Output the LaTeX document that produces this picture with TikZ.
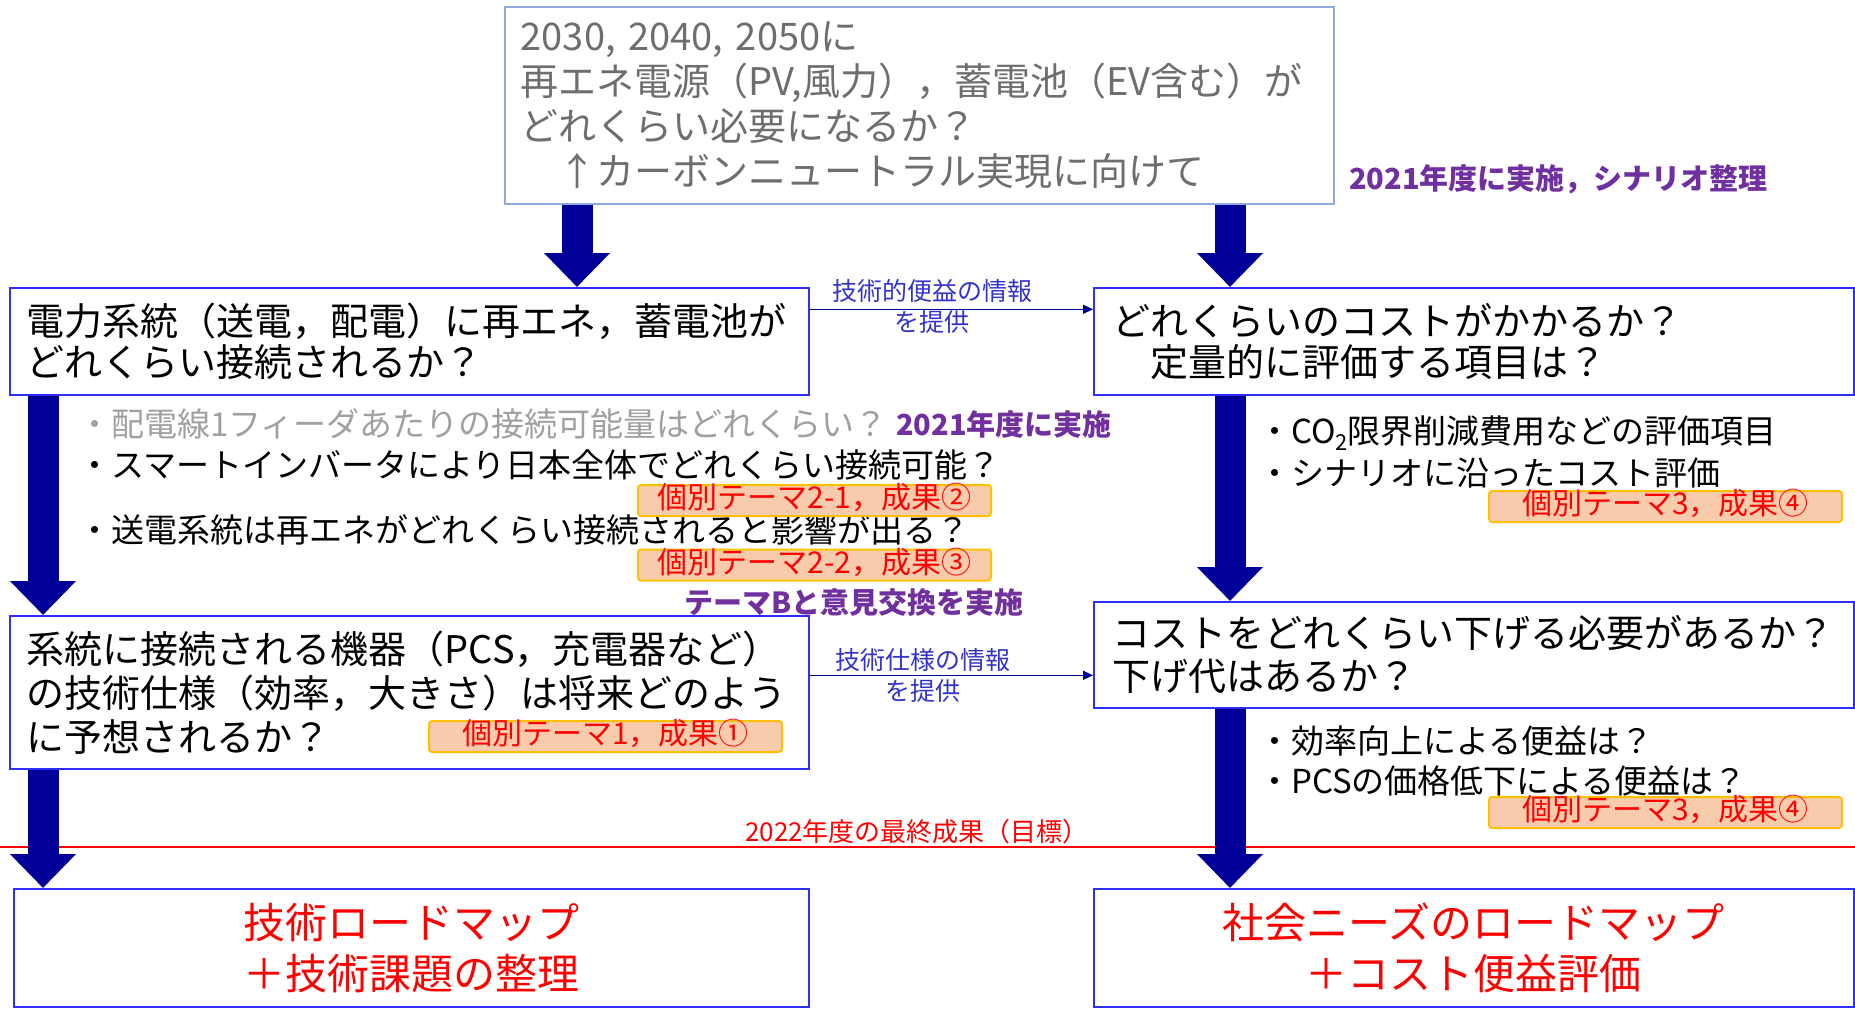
\documentclass[tikz,border=0pt]{standalone}
\usepackage{fontspec}
\setmainfont{Noto Sans CJK JP}
\usetikzlibrary{arrows.meta,calc}
\definecolor{navy}{HTML}{000099}
\definecolor{boxblue}{HTML}{2E2EFF}
\definecolor{topblue}{HTML}{8FAADC}
\definecolor{purp}{HTML}{7030A0}
\definecolor{lblue}{HTML}{3333CC}
\definecolor{orfill}{HTML}{F8CBAD}
\definecolor{orline}{HTML}{FFC000}
\definecolor{greytxt}{HTML}{6E6E6E}
\definecolor{lgreytxt}{HTML}{A0A0A0}
\begin{document}
\begin{tikzpicture}[x=1pt,y=-1pt,
  mainbox/.style={draw=boxblue,line width=1.6pt,anchor=north west,inner ysep=0pt},
  orbox/.style={draw=orline,fill=orfill,line width=2pt,rounded corners=3pt,text=red,
    font=\fontsize{30}{30}\selectfont,minimum width=353pt,minimum height=31pt,
    inner sep=0pt,text height=22pt,text depth=6pt},
  bul/.style={anchor=west,inner sep=0pt,font=\fontsize{33}{33}\selectfont},
  purplab/.style={anchor=west,inner sep=0pt,text=purp,font=\bfseries\fontsize{29}{29}\selectfont},
  infolab/.style={text=lblue,font=\fontsize{25}{31}\selectfont,align=center,inner sep=0pt},
  thinarrow/.style={draw=navy,line width=1.5pt,-{Triangle[length=10pt,width=9pt]}},
  bigarrow/.style={draw=navy,line width=31pt,-{Triangle[length=34pt,width=64pt]}},
  goaltext/.style={text=red,font=\fontsize{42}{51}\selectfont,align=center}
]
\useasboundingbox (0,0) rectangle (1855,1010);

% boxes
\node[mainbox,draw=topblue,minimum width=829pt,minimum height=197pt,inner xsep=16pt,
  text width=797pt,align=left,text=greytxt,font=\fontsize{38}{45}\selectfont]
  (top) at (504,6)
  {2030, 2040, 2050に\\再エネ電源（PV,風力），蓄電池（EV含む）が\\どれくらい必要になるか？\\　↑カーボンニュートラル実現に向けて};

\node[mainbox,minimum width=799pt,minimum height=107pt,inner xsep=17pt,text width=765pt,
  align=left,font=\fontsize{38}{41}\selectfont] (A) at (9,287)
  {電力系統（送電，配電）に再エネ，蓄電池が\\どれくらい接続されるか？};

\node[mainbox,minimum width=760pt,minimum height=107pt,inner xsep=19pt,text width=722pt,
  align=left,font=\fontsize{38}{41}\selectfont] (B) at (1093,287)
  {どれくらいのコストがかかるか？\\　定量的に評価する項目は？};

\node[mainbox,minimum width=799pt,minimum height=153pt,inner xsep=17pt,text width=765pt,
  align=left,font=\fontsize{38}{44}\selectfont] (C) at (9,615)
  {系統に接続される機器（PCS，充電器など）\\の技術仕様（効率，大きさ）は将来どのよう\\に予想されるか？};

\node[mainbox,minimum width=760pt,minimum height=106pt,inner xsep=19pt,text width=722pt,
  align=left,font=\fontsize{38}{43}\selectfont] (D) at (1093,601)
  {コストをどれくらい下げる必要があるか？\\下げ代はあるか？};

\node[mainbox,goaltext,minimum width=795pt,minimum height=118pt] (E) at (13,888)
  {技術ロードマップ\\＋技術課題の整理};

\node[mainbox,goaltext,minimum width=760pt,minimum height=118pt] (F) at (1093,888)
  {社会ニーズのロードマップ\\＋コスト便益評価};

% red divider
\coordinate (rl) at (0,847);
\coordinate (rr) at (1855,847);
\draw[red,line width=2pt] (rl) -- (rr);
\node[text=red,font=\fontsize{26}{26}\selectfont,inner sep=0pt] (goal) at (917,832)
  {2022年度の最終成果（目標）};

% big arrows
\coordinate (t1) at ([xshift=73pt]top.south west);
\coordinate (t2) at ([xshift=726pt]top.south west);
\draw[bigarrow] (t1) -- (t1 |- A.north);
\draw[bigarrow] (t2) -- (t2 |- B.north);
\coordinate (a1) at ([xshift=34pt]A.south west);
\draw[bigarrow] (a1) -- (a1 |- C.north);
\coordinate (c1) at ([xshift=34pt]C.south west);
\draw[bigarrow] (c1) -- (c1 |- E.north);
\coordinate (b1) at ([xshift=137pt]B.south west);
\draw[bigarrow] (b1) -- (b1 |- D.north);
\coordinate (d1) at ([xshift=137pt]D.south west);
\draw[bigarrow] (d1) -- (d1 |- F.north);

% thin arrows
\coordinate (ae) at ([yshift=32pt]A.east);
\draw[thinarrow] (ae) -- (ae -| B.west);
\node[infolab] (lab1) at (932,306) {技術的便益の情報\\を提供};
\coordinate (ce) at ([yshift=17pt]C.east);
\draw[thinarrow] (ce) -- (ce -| D.west);
\node[infolab] (lab2) at (923,675) {技術仕様の情報\\を提供};

% purple labels
\node[purplab] (p1) at (1349,179) {2021年度に実施，シナリオ整理};
\node[purplab] (p2) at (896,424) {2021年度に実施};
\node[purplab] (p3) at (684,603) {テーマBと意見交換を実施};

% left bullets
\node[bul,text=lgreytxt] (l1) at (78,424) {・配電線1フィーダあたりの接続可能量はどれくらい？};
\node[bul] (l2) at (78,465) {・スマートインバータにより日本全体でどれくらい接続可能？};
\node[bul] (l3) at (78,530) {・送電系統は再エネがどれくらい接続されると影響が出る？};
\node[orbox] (o21) at (814.5,500.5) {個別テーマ2-1，成果②};
\node[orbox] (o22) at (814.5,565) {個別テーマ2-2，成果③};
\node[orbox] (o1) at (605.5,736.5) {個別テーマ1，成果①};

% right bullets
\node[bul] (r1) at (1258,433) {・CO{\fontsize{22}{22}\selectfont\raisebox{-7pt}{2}}限界削減費用などの評価項目};
\node[bul] (r2) at (1258,473) {・シナリオに沿ったコスト評価};
\node[orbox] (o3a) at (1665.5,506.5) {個別テーマ3，成果④};
\node[bul] (r3) at (1258,741) {・効率向上による便益は？};
\node[bul] (r4) at (1258,781) {・PCSの価格低下による便益は？};
\node[orbox] (o3b) at (1665.5,812.5) {個別テーマ3，成果④};
\end{tikzpicture}
\end{document}
